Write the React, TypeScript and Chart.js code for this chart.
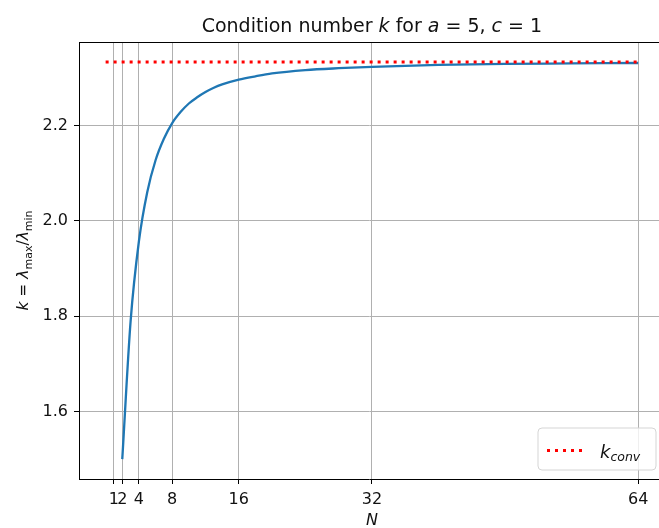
import React, { useEffect, useRef } from "react";
import { Chart, registerables } from "chart.js";

Chart.register(...registerables);

const N_VALUES = [2, 3, 4, 5, 6, 7, 8, 9, 10, 11, 12, 13, 14, 16, 18, 20, 24, 28, 32, 40, 48, 56, 64];
const K_VALUES = [1.5, 1.789, 1.957, 2.06, 2.127, 2.172, 2.205, 2.228, 2.246, 2.259, 2.27, 2.279, 2.286, 2.296, 2.303, 2.309, 2.316, 2.32, 2.323, 2.327, 2.329, 2.33, 2.331];
const K_CONV = 2.3333;
const K_CONV_RANGE = [0, 64];
const X_TICKS = [1, 2, 4, 8, 16, 32, 64];
const Y_TICKS = [1.6, 1.8, 2.0, 2.2];
const X_RANGE = [-3.2, 66.5];
const Y_RANGE = [1.4583, 2.375];

const FONT = "'DejaVu Sans', sans-serif";

type Part = { t: string; it?: boolean; sub?: boolean };

function drawParts(ctx: CanvasRenderingContext2D, parts: Part[], size: number, subSize: number, subShift: number, cx: number, baseY: number) {
  const fontFor = (p: Part) => `${p.it ? "italic " : ""}${p.sub ? subSize : size}px ${FONT}`;
  let total = 0;
  for (const p of parts) {
    ctx.font = fontFor(p);
    total += ctx.measureText(p.t).width;
  }
  let x = cx - total / 2;
  ctx.textAlign = "left";
  ctx.textBaseline = "alphabetic";
  for (const p of parts) {
    ctx.font = fontFor(p);
    ctx.fillText(p.t, x, baseY + (p.sub ? subShift : 0));
    x += ctx.measureText(p.t).width;
  }
}

const decorPlugin = {
  id: "decor",
  afterDraw(chart: any) {
    const ctx: CanvasRenderingContext2D = chart.ctx;
    const area = chart.chartArea;
    const xs = chart.scales.x;
    ctx.save();
    // top spine
    ctx.strokeStyle = "#000";
    ctx.lineWidth = 1;
    ctx.beginPath();
    ctx.moveTo(area.left, area.top + 0.5);
    ctx.lineTo(area.right, area.top + 0.5);
    ctx.stroke();

    ctx.fillStyle = "#111";
    const cx = xs.getPixelForValue((X_RANGE[0] + 67.2) / 2);
    // title
    drawParts(
      ctx,
      [
        { t: "Condition number " },
        { t: "k", it: true },
        { t: " for " },
        { t: "a", it: true },
        { t: " = 5, " },
        { t: "c", it: true },
        { t: " = 1" },
      ],
      19, 13, 0, cx, 32
    );
    // x label
    drawParts(ctx, [{ t: "N", it: true }], 16, 11, 0, cx, 525);
    // y label
    ctx.save();
    ctx.translate(28, (area.top + area.bottom) / 2);
    ctx.rotate(-Math.PI / 2);
    drawParts(
      ctx,
      [
        { t: "k", it: true },
        { t: " = " },
        { t: "λ", it: true },
        { t: "max", sub: true },
        { t: "/" },
        { t: "λ", it: true },
        { t: "min", sub: true },
      ],
      15.5, 11, 3.5, 0, 0
    );
    ctx.restore();

    // legend
    const lx = 538, ly = 428, lw = 118, lh = 42, r = 4;
    ctx.beginPath();
    ctx.moveTo(lx + r, ly);
    ctx.lineTo(lx + lw - r, ly);
    ctx.quadraticCurveTo(lx + lw, ly, lx + lw, ly + r);
    ctx.lineTo(lx + lw, ly + lh - r);
    ctx.quadraticCurveTo(lx + lw, ly + lh, lx + lw - r, ly + lh);
    ctx.lineTo(lx + r, ly + lh);
    ctx.quadraticCurveTo(lx, ly + lh, lx, ly + lh - r);
    ctx.lineTo(lx, ly + r);
    ctx.quadraticCurveTo(lx, ly, lx + r, ly);
    ctx.closePath();
    ctx.fillStyle = "rgba(255,255,255,0.8)";
    ctx.fill();
    ctx.strokeStyle = "#d5d5d5";
    ctx.lineWidth = 1;
    ctx.stroke();

    ctx.strokeStyle = "red";
    ctx.lineWidth = 3;
    ctx.setLineDash([3, 5]);
    ctx.beginPath();
    ctx.moveTo(547, 450.5);
    ctx.lineTo(587, 450.5);
    ctx.stroke();
    ctx.setLineDash([]);

    ctx.fillStyle = "#111";
    ctx.textAlign = "left";
    ctx.textBaseline = "alphabetic";
    ctx.font = `italic 18px ${FONT}`;
    ctx.fillText("k", 600, 458);
    const kw = ctx.measureText("k").width;
    ctx.font = `italic 12.5px ${FONT}`;
    ctx.fillText("conv", 600 + kw, 461);
    ctx.restore();
  },
};

export default function App() {
  const ref = useRef<HTMLCanvasElement | null>(null);
  useEffect(() => {
    document.body.style.margin = "0";
    const canvas = ref.current!;
    const chart = new Chart(canvas, {
      type: "line",
      data: {
        datasets: [
          {
            label: "k_conv",
            data: K_CONV_RANGE.map((x) => ({ x, y: K_CONV })),
            borderColor: "red",
            borderWidth: 3,
            borderDash: [3, 5],
            pointRadius: 0,
            order: 0,
          },
          {
            label: "k",
            data: N_VALUES.map((x, i) => ({ x, y: K_VALUES[i] })),
            borderColor: "#1f77b4",
            borderWidth: 2.3,
            pointRadius: 0,
            cubicInterpolationMode: "monotone",
            order: 1,
          },
        ],
      },
      options: {
        responsive: false,
        animation: false,
        devicePixelRatio: 1,
        layout: { padding: { top: 42, left: 0, right: 0, bottom: 0 } },
        plugins: { legend: { display: false }, title: { display: false }, tooltip: { enabled: false } },
        scales: {
          x: {
            type: "linear",
            min: X_RANGE[0],
            max: X_RANGE[1],
            afterBuildTicks: (s: any) => {
              s.ticks = X_TICKS.map((v) => ({ value: v }));
            },
            afterFit: (s: any) => {
              s.height = 49;
            },
            grid: { color: "#b0b0b0", lineWidth: 1, tickColor: "#000", tickLength: 5, drawTicks: true },
            border: { display: true, color: "#000", width: 1 },
            ticks: {
              autoSkip: false,
              maxRotation: 0,
              padding: 6,
              color: "#111",
              font: { family: FONT, size: 16 },
              callback: (v: any) => String(v),
            },
          },
          y: {
            type: "linear",
            min: Y_RANGE[0],
            max: Y_RANGE[1],
            afterBuildTicks: (s: any) => {
              s.ticks = Y_TICKS.map((v) => ({ value: v }));
            },
            afterFit: (s: any) => {
              s.width = 79;
            },
            grid: { color: "#b0b0b0", lineWidth: 1, tickColor: "#000", tickLength: 5, drawTicks: true },
            border: { display: true, color: "#000", width: 1 },
            ticks: {
              padding: 6,
              color: "#111",
              font: { family: FONT, size: 16 },
              callback: (v: any) => Number(v).toFixed(1),
            },
          },
        },
      },
      plugins: [decorPlugin],
    } as any);
    return () => chart.destroy();
  }, []);
  return (
    <div style={{ position: "fixed", left: 0, top: 0, width: 659, height: 528, background: "#fff" }}>
      <canvas ref={ref} width={659} height={528} style={{ width: 659, height: 528, display: "block" }} />
    </div>
  );
}
